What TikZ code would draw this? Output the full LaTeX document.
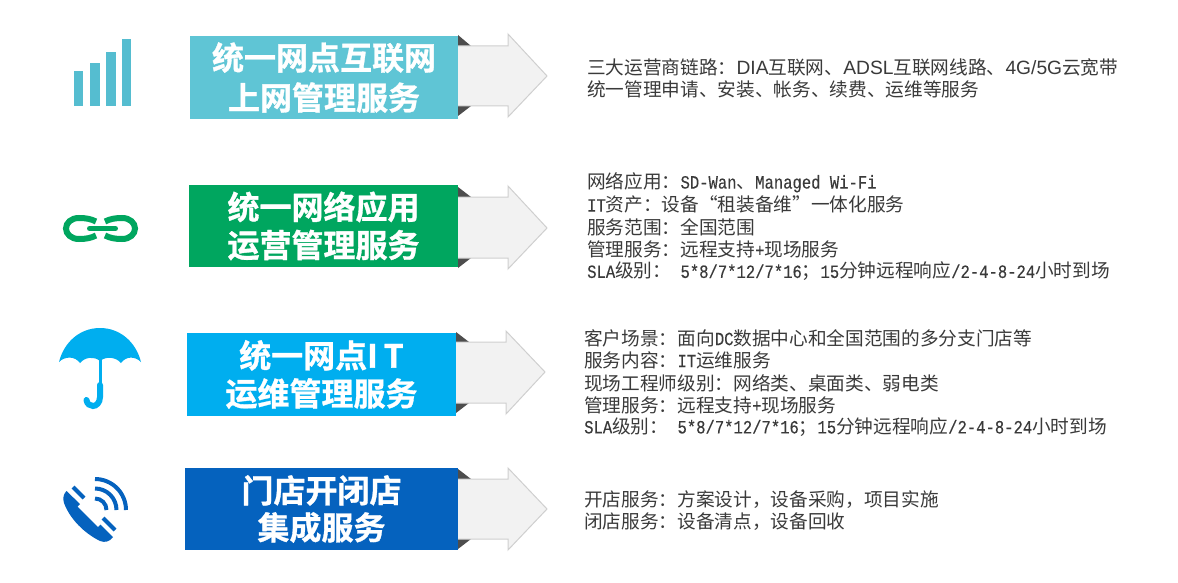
\documentclass[tikz,border=0pt]{standalone}
\usepackage{fontspec}
\setmainfont{Noto Sans CJK SC}
\newfontfamily\titlecjk[FakeBold=1]{Noto Sans CJK SC Bold}
\newfontfamily\bodycjk{Noto Sans CJK SC}
\newfontfamily\sanslat[Scale=1.03]{Liberation Sans}
\newfontfamily\monolat[FakeStretch=0.833,FakeBold=0.2]{Liberation Mono}
\newcommand{\lat}[1]{{\monolat #1}}
\newcommand{\slat}[1]{{\sanslat #1}}
\definecolor{tealbox}{HTML}{5FC5D5}
\definecolor{tealicon}{HTML}{55BDD0}
\definecolor{greenbox}{HTML}{00A65F}
\definecolor{cyanbox}{HTML}{00AEEF}
\definecolor{bluebox}{HTML}{0562BE}
\definecolor{arrowfill}{HTML}{F2F2F2}
\definecolor{arrowline}{HTML}{CFCFCF}
\definecolor{cornerdark}{HTML}{4D4D4D}
\definecolor{bodytext}{HTML}{3A3A3A}
% #1 box right, #2 head x, #3 tip x, #4 head top, #5 shaft top, #6 mid y, #7 shaft bottom, #8 head bottom
\newcommand{\bigarrow}[8]{%
  \fill[cornerdark] (#1,#4+1) -- (#1+13,#5) -- (#1,#5) -- cycle;
  \fill[cornerdark] (#1,#8-1) -- (#1+13,#7) -- (#1,#7) -- cycle;
  \fill[arrowfill] (#1,#5) -- (#2,#5) -- (#2,#4) -- (#3,#6) -- (#2,#8) -- (#2,#7) -- (#1,#7) -- cycle;
  \draw[arrowline,line width=1pt,line join=miter] (#1,#5) -- (#2,#5) -- (#2,#4) -- (#3,#6) -- (#2,#8) -- (#2,#7) -- (#1,#7);
}
\tikzset{
  titlebox/.style={anchor=north west,inner sep=0pt,outer sep=0pt,align=center,text=white},
  bodyline/.style={anchor=west,inner sep=0pt,text=bodytext,font=\bodycjk\fontsize{18.67}{22}\selectfont},
}
\begin{document}
\begin{tikzpicture}[x=1pt,y=-1pt]
\useasboundingbox (0,0) rectangle (1178,583);
\fill[white] (0,0) rectangle (1178,583);

% arrows
\bigarrow{458}{508}{547}{34}{46}{76}{106}{117}
\bigarrow{458}{508}{547}{186}{197}{228}{258}{269}
\bigarrow{456}{506}{545}{331}{342}{372}{403}{414}
\bigarrow{458}{508}{547}{468}{479}{509}{539}{550}

% title boxes
\node[titlebox,fill=tealbox,minimum width=268pt,minimum height=83pt,font=\titlecjk\fontsize{32}{40}\selectfont] (b1) at (190,36) {统一网点互联网\\上网管理服务};
\node[titlebox,fill=greenbox,minimum width=269pt,minimum height=82pt,font=\titlecjk\fontsize{32}{38}\selectfont] (b2) at (189,185) {统一网络应用\\运营管理服务};
\node[titlebox,fill=cyanbox,minimum width=269pt,minimum height=83pt,font=\titlecjk\fontsize{32}{38}\selectfont] (b3) at (187,333) {统一网点I\hspace{6pt}T\\运维管理服务};
\node[titlebox,fill=bluebox,minimum width=273pt,minimum height=82pt,font=\titlecjk\fontsize{32}{37}\selectfont] (b4) at (185,468) {门店开闭店\\集成服务};

% signal icon
\fill[tealicon] (74,71) rectangle (83,106);
\fill[tealicon] (90,63) rectangle (100,106);
\fill[tealicon] (106,52) rectangle (116,106);
\fill[tealicon] (122,39) rectangle (131,106);

% chain icon
\draw[greenbox,line width=6pt] (96,221.5) .. controls (91,219) and (86,218) .. (79,218) .. controls (71,218) and (66,223) .. (66,228.5) .. controls (66,234) and (71,239) .. (79,239) .. controls (86,239) and (91,238) .. (96,235.5);
\draw[greenbox,line width=6pt] (105,221.5) .. controls (110,219) and (115,218) .. (122,218) .. controls (130,218) and (135,223) .. (135,228.5) .. controls (135,234) and (130,239) .. (122,239) .. controls (115,239) and (110,238) .. (105,235.5);
\draw[greenbox,line width=5pt,line cap=round] (89.5,228.5) -- (115.5,228.5);

% umbrella icon
\fill[cyanbox] (59,362) .. controls (64,342) and (80,328) .. (100,328) .. controls (120,328) and (136,342) .. (141,362)
  .. controls (135,356) and (126,356) .. (121,363) .. controls (116,357) and (106,356) .. (100,361)
  .. controls (94,356) and (85,357) .. (80,363) .. controls (75,356) and (65,356) .. (59,362) -- cycle;
\draw[cyanbox,line width=3pt] (100.5,358) -- (100.5,386);
\draw[cyanbox,line width=6pt,line cap=round] (100,385) -- (100,397) .. controls (100,403) and (96,406) .. (93,406) .. controls (90,406) and (87,404) .. (86.5,400);

% phone icon
\fill[bluebox] (66.5,491) -- (80,504) -- (77.5,506.5) -- (98,527) -- (100.5,524.5) -- (113,537)
  .. controls (110,541.5) and (105,543) .. (100,541) .. controls (84,533) and (70,519) .. (64,503) .. controls (62.5,498) and (63.5,494) .. (66.5,491) -- cycle;
\draw[bluebox,line width=4pt] (73,487) -- (84,498);
\draw[bluebox,line width=4pt] (103,518) -- (115,530);
\draw[bluebox,line width=4pt] (95,479) .. controls (112.1,479) and (126,492.9) .. (126,510);
\draw[bluebox,line width=4pt] (95,488.5) .. controls (106.9,488.5) and (116.5,498.1) .. (116.5,510);
\draw[bluebox,line width=4pt] (95,498.5) .. controls (101.4,498.5) and (106.5,503.6) .. (106.5,510);

% descriptions
\node[bodyline] (t11) at (587,67) {三大运营商链路：\slat{DIA}互联网、\slat{ADSL}互联网线路、\slat{4G/5G}云宽带};
\node[bodyline] (t12) at (587,89) {统一管理申请、安装、帐务、续费、运维等服务};

\node[bodyline] (t21) at (587,182.5) {网络应用：\lat{SD-Wan}、\lat{Managed Wi-Fi}};
\node[bodyline] (t22) at (587,204.5) {\lat{IT}资产：设备“租装备维”一体化服务};
\node[bodyline] (t23) at (587,227.5) {服务范围：全国范围};
\node[bodyline] (t24) at (587,249.5) {管理服务：远程支持\lat{+}现场服务};
\node[bodyline] (t25) at (587,271.5) {\lat{SLA}级别：\lat{ 5*8/7*12/7*16}；\lat{15}分钟远程响应\lat{/2-4-8-24}小时到场};

\node[bodyline] (t31) at (584,338) {客户场景：面向\lat{DC}数据中心和全国范围的多分支门店等};
\node[bodyline] (t32) at (584,360) {服务内容：\lat{IT}运维服务};
\node[bodyline] (t33) at (584,383) {现场工程师级别：网络类、桌面类、弱电类};
\node[bodyline] (t34) at (584,405) {管理服务：远程支持\lat{+}现场服务};
\node[bodyline] (t35) at (584,427) {\lat{SLA}级别：\lat{ 5*8/7*12/7*16}；\lat{15}分钟远程响应\lat{/2-4-8-24}小时到场};

\node[bodyline] (t41) at (584,500) {开店服务：方案设计，设备采购，项目实施};
\node[bodyline] (t42) at (584,522) {闭店服务：设备清点，设备回收};
\end{tikzpicture}
\end{document}
